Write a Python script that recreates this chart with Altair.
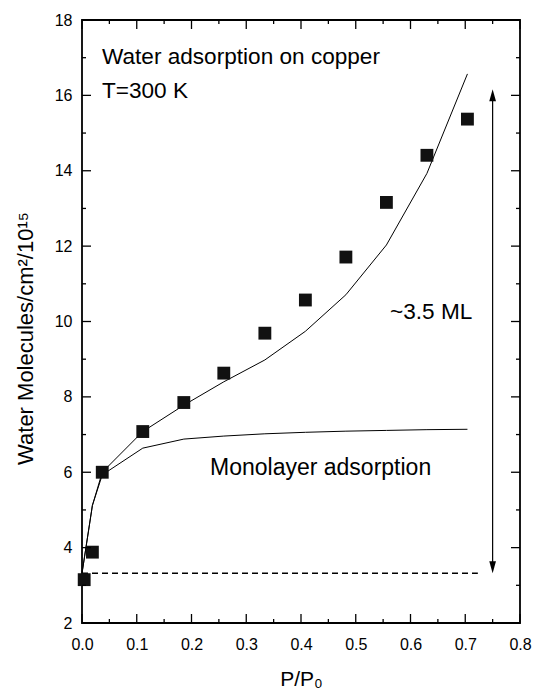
import altair as alt
import pandas as pd

# ---- data ----
p_meas = [0.004, 0.019, 0.037, 0.111, 0.186, 0.259, 0.334, 0.408, 0.482, 0.556, 0.630, 0.704]
n_meas = [3.15, 3.88, 6.00, 7.08, 7.85, 8.63, 9.69, 10.57, 11.71, 13.16, 14.41, 15.37]

p_fit = [0.0, 0.019, 0.037, 0.111, 0.186, 0.259, 0.334, 0.408, 0.482, 0.556, 0.630, 0.704]
n_multi = [3.32, 5.12, 6.00, 7.08, 7.78, 8.40, 8.98, 9.74, 10.71, 12.03, 13.93, 16.57]
n_mono = [3.32, 5.12, 5.93, 6.64, 6.88, 6.96, 7.02, 7.06, 7.09, 7.11, 7.13, 7.14]

baseline_n = 3.32
baseline_end = 0.723
arrow_p = 0.75
arrow_top = 16.16

x_major = [0.0, 0.1, 0.2, 0.3, 0.4, 0.5, 0.6, 0.7, 0.8]
x_minor = [0.05, 0.15, 0.25, 0.35, 0.45, 0.55, 0.65, 0.75]
y_major = [2, 4, 6, 8, 10, 12, 14, 16, 18]
y_minor = [3, 5, 7, 9, 11, 13, 15, 17]

W, H = 438, 603
Y_LO, Y_HI = 2, 18
FONT = "Liberation Sans"

xs = alt.Scale(domain=[0, 0.8], nice=False, zero=False, padding=0)
ys = alt.Scale(domain=[Y_LO, Y_HI], nice=False, zero=False, padding=0)

x_axis = alt.Axis(values=x_major, format=".1f", ticks=False, domain=False, grid=False,
                  labelFlush=False,
                  labelFontSize=16, labelPadding=13, labelColor="black",
                  title="P/P₀", titleFontSize=21, titleFontWeight="normal",
                  titleBaseline="alphabetic", titleY=62,
                  titleColor="black", labelFont=FONT, titleFont=FONT)
y_axis = alt.Axis(values=y_major, ticks=False, domain=False, grid=False,
                  labelFlush=False,
                  labelFontSize=16, labelPadding=10, labelColor="black",
                  title="Water Molecules/cm²/10¹⁵", titleFontSize=22,
                  titleFontWeight="normal", titleAngle=270, titleBaseline="alphabetic",
                  titleAlign="center", titleX=-50, titleY=318, titleColor="black",
                  labelFont=FONT, titleFont=FONT)


def X(field=None, datum=None):
    if field is not None:
        return alt.X(field, type="quantitative", scale=xs, axis=x_axis)
    return alt.X(datum=datum, scale=xs, axis=x_axis)


def Y(field=None, datum=None):
    if field is not None:
        return alt.Y(field, type="quantitative", scale=ys, axis=y_axis)
    return alt.Y(datum=datum, scale=ys, axis=y_axis)


fit_df = pd.DataFrame({"p": p_fit, "multi": n_multi, "mono": n_mono})
meas_df = pd.DataFrame({"p": p_meas, "n": n_meas})
one = pd.DataFrame({"a": [0]})

multi_line = alt.Chart(fit_df).mark_line(color="black", strokeWidth=1).encode(
    x=X("p"), y=Y("multi"))
mono_line = alt.Chart(fit_df).mark_line(color="black", strokeWidth=1).encode(
    x=X("p"), y=Y("mono"))
squares = alt.Chart(meas_df).mark_square(size=165, color="#111111", opacity=1).encode(
    x=X("p"), y=Y("n"))

dashed = alt.Chart(one).mark_rule(color="black", strokeWidth=1.3, strokeDash=[6, 4]).encode(
    x=X(datum=0.0), x2=alt.X2(datum=baseline_end), y=Y(datum=baseline_n))

shaft = alt.Chart(one).mark_rule(color="black", strokeWidth=1.2).encode(
    x=X(datum=arrow_p), y=Y(datum=baseline_n + 0.2), y2=alt.Y2(datum=arrow_top - 0.2))
head_up = alt.Chart(one).mark_point(
    shape="M0,0L-0.28,1L0.28,1Z", size=576, filled=True, color="black", opacity=1).encode(
    x=X(datum=arrow_p), y=Y(datum=arrow_top))
head_down = alt.Chart(one).mark_point(
    shape="M0,0L-0.28,-1L0.28,-1Z", size=576, filled=True, color="black", opacity=1).encode(
    x=X(datum=arrow_p), y=Y(datum=baseline_n))


def label(txt, px, ny, fs):
    return alt.Chart(one).mark_text(
        text=txt, align="left", baseline="alphabetic", fontSize=fs, font=FONT, color="black"
    ).encode(x=X(datum=px), y=Y(datum=ny))


t1 = label("Water adsorption on copper", 0.0365, 16.83, 22.6)
t2 = label("T=300 K", 0.0365, 15.92, 22.6)
t3 = label("~3.5 ML", 0.5626, 10.06, 22.6)
t4 = label("Monolayer adsorption", 0.2338, 5.93, 23)


def yticks(vals, length):
    df = pd.DataFrame({"yv": vals})
    left = alt.Chart(df).mark_rule(color="black", strokeWidth=1.3).encode(
        y=Y("yv"), x=alt.value(0), x2=alt.value(length))
    right = alt.Chart(df).mark_rule(color="black", strokeWidth=1.3).encode(
        y=Y("yv"), x=alt.value(W - length), x2=alt.value(W))
    return [left, right]


def xticks(vals, length):
    # vertical tick drawn as a stroked symbol path; unit path length 1 -> `length` px
    df = pd.DataFrame({"xv": vals})
    size = (2 * length) ** 2
    top = alt.Chart(df).mark_point(shape="M0,0L0,1", size=size, color="black",
                                   strokeWidth=1.3, opacity=1, filled=False).encode(
        x=X("xv"), y=alt.value(0))
    bottom = alt.Chart(df).mark_point(shape="M0,0L0,-1", size=size, color="black",
                                      strokeWidth=1.3, opacity=1, filled=False).encode(
        x=X("xv"), y=alt.value(H))
    return [top, bottom]


ticks = yticks(y_major, 9) + yticks(y_minor, 4) + xticks(x_major, 9) + xticks(x_minor, 4)

chart = alt.layer(
    multi_line, mono_line, dashed, shaft, head_up, head_down, squares,
    t1, t2, t3, t4, *ticks
).properties(
    width=W, height=H,
    autosize=alt.AutoSizeParams(type="none"),
    padding={"left": 82, "top": 20, "right": 14, "bottom": 69},
    background="white",
).configure_view(
    stroke="black", strokeWidth=1.8
)

chart.save("out.html", embed_options={"renderer": "svg", "actions": False})
